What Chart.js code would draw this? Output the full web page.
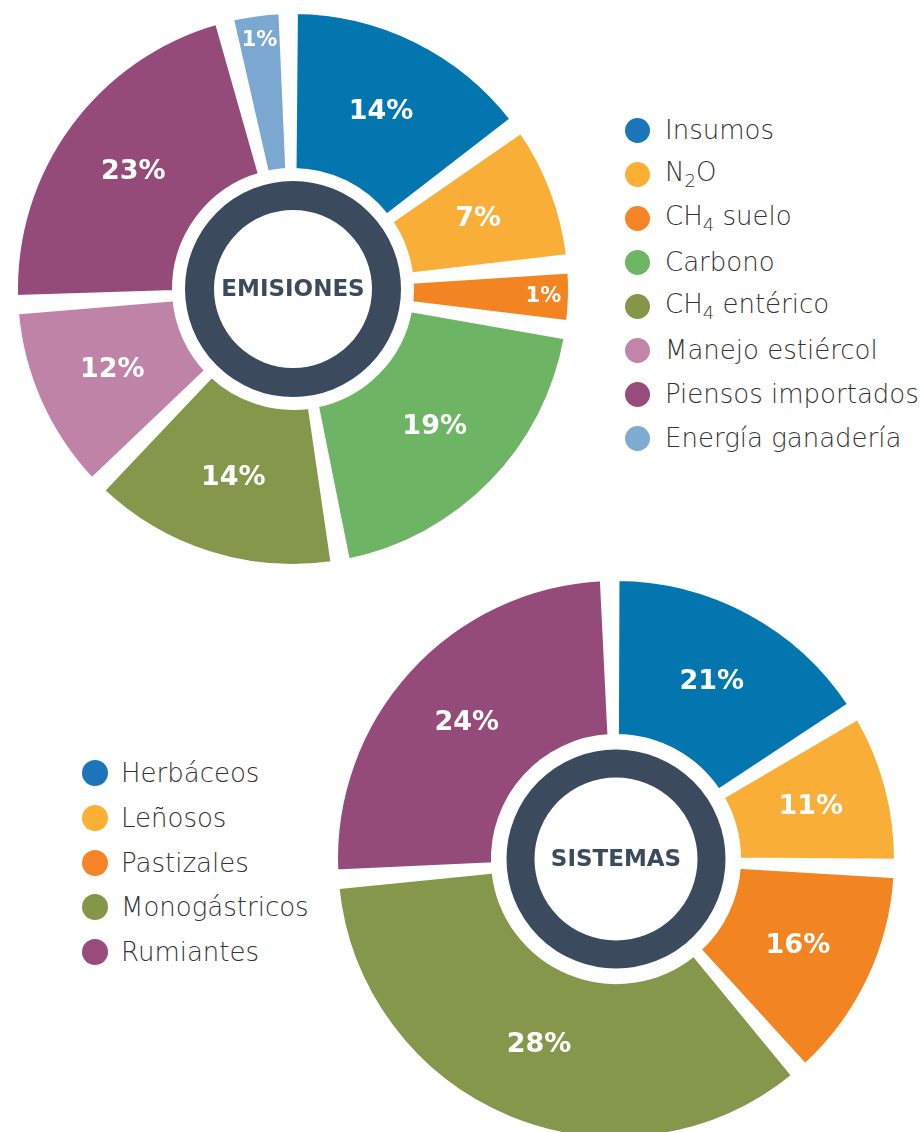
<!DOCTYPE html>
<html>
<head>
<meta charset="utf-8">
<script src="https://cdn.jsdelivr.net/npm/chart.js@4.4.1/dist/chart.umd.min.js"></script>
<style>
  body { margin: 0; background: #fff; }
  #page { position: relative; width: 924px; height: 1132px; overflow: hidden; background: #fff; }
  #page canvas { position: absolute; }
  #c1 { left: -7px; top: -11px; }
  #c2 { left: 316px; top: 559px; }
  .legend { position: absolute; font-family: "DejaVu Sans", sans-serif; font-weight: 200; font-size: 26px; color: #333; }
  .legend .row { display: flex; align-items: center; white-space: nowrap; }
  .legend .dot { width: 25px; height: 25px; border-radius: 50%; margin-right: 15px; flex: none; }
  #leg1 { left: 625px; top: 108px; }
  #leg1 .row { height: 44px; }
  #leg2 { left: 82px; top: 751px; }
  #leg2 .row { height: 44.7px; }
  #leg2 .dot { width: 26px; height: 26px; margin-right: 13px; }
</style>
</head>
<body>
<div id="page">
  <canvas id="c1" width="600" height="600"></canvas>
  <canvas id="c2" width="600" height="600"></canvas>
  <div class="legend" id="leg1"></div>
  <div class="legend" id="leg2"></div>
</div>
<script>
// Emisiones
const emisionesLabels = ["Insumos", "N₂O", "CH₄ suelo", "Carbono", "CH₄ entérico", "Manejo estiércol", "Piensos importados", "Energía ganadería"];
const emisionesPct = [14, 7, 1, 19, 14, 12, 23, 1];
// slice sizes as drawn in the picture (small slices are drawn wider than their %)
const emisionesArc = [15.2, 8.6, 3.8, 19.9, 15.2, 11.6, 21.9, 3.7];
const emisionesColors = ["#0376af", "#f9ae38", "#f28521", "#6db465", "#84974a", "#c083a8", "#944b79", "#7ba8d1"];

// Sistemas
const sistemasLabels = ["Herbáceos", "Leñosos", "Pastizales", "Monogástricos", "Rumiantes"];
const sistemasPct = [21, 11, 16, 28, 24];
const sistemasArc = [16.5, 9.4, 13.1, 35.2, 25.8];
const sistemasColors = ["#0376af", "#f9ae38", "#f28521", "#84974a", "#944b79"];

const dark = "#3b4a5c";

// pull each slice's edges in a little so the white gaps widen outward
const arcGap = {
    id: "arcGap",
    afterDatasetsUpdate(chart, args, opts) {
        const g = opts.deg * Math.PI / 180;
        chart.getDatasetMeta(0).data.forEach((arc) => {
            arc.startAngle += g / 2;
            arc.endAngle -= g / 2;
            arc.circumference -= g;
        });
    }
};

const sliceLabels = {
    id: "sliceLabels",
    afterDatasetsDraw(chart, args, opts) {
        const ctx = chart.ctx;
        const meta = chart.getDatasetMeta(0);
        const values = chart.data.datasets[0].data;
        meta.data.forEach((arc, i) => {
            const p = arc.getProps(["x", "y", "startAngle", "endAngle", "innerRadius", "outerRadius"], true);
            const mid = (p.startAngle + p.endAngle) / 2;
            const small = values[i] < 5;
            const r = p.innerRadius + (p.outerRadius - p.innerRadius) * (small ? 0.83 : 0.5);
            ctx.save();
            ctx.font = "bold " + (small ? 21 : 27) + "px 'DejaVu Sans'";
            ctx.fillStyle = "#fff";
            ctx.textAlign = "center";
            ctx.textBaseline = "middle";
            ctx.fillText(opts.texts[i] + "%", p.x + Math.cos(mid) * r, p.y + Math.sin(mid) * r);
            ctx.restore();
        });
    }
};

const centerRing = {
    id: "centerRing",
    afterDatasetsDraw(chart, args, opts) {
        const ctx = chart.ctx;
        const arc = chart.getDatasetMeta(0).data[0];
        const x = arc.x, y = arc.y;
        ctx.save();
        ctx.beginPath();
        ctx.arc(x, y, opts.outer - opts.width / 2, 0, Math.PI * 2);
        ctx.lineWidth = opts.width;
        ctx.strokeStyle = dark;
        ctx.stroke();
        ctx.font = "bold 23px 'DejaVu Sans'";
        ctx.fillStyle = dark;
        ctx.textAlign = "center";
        ctx.textBaseline = "middle";
        ctx.fillText(opts.text, x, y + 1);
        ctx.restore();
    }
};

function makeDonut(id, values, colors, pct, radius, cutout, rotation, ring) {
    new Chart(document.getElementById(id), {
        type: "doughnut",
        data: {
            datasets: [{
                data: values,
                backgroundColor: colors,
                borderColor: "#fff",
                borderWidth: 5
            }]
        },
        options: {
            responsive: false,
            animation: false,
            events: [],
            radius: radius,
            cutout: cutout,
            rotation: rotation,
            plugins: {
                legend: { display: false },
                tooltip: { enabled: false },
                arcGap: { deg: 3 },
                sliceLabels: { texts: pct },
                centerRing: ring
            }
        },
        plugins: [arcGap, sliceLabels, centerRing]
    });
}

makeDonut("c1", emisionesArc, emisionesColors, emisionesPct, 277.5, "42.7%", -1, { outer: 108, width: 29, text: "EMISIONES" });
makeDonut("c2", sistemasArc, sistemasColors, sistemasPct, 280.5, "43.7%", -1.3, { outer: 109.5, width: 28, text: "SISTEMAS" });

function buildLegend(id, labels, colors) {
    const el = document.getElementById(id);
    labels.forEach((lab, i) => {
        const row = document.createElement("div");
        row.className = "row";
        const dot = document.createElement("span");
        dot.className = "dot";
        dot.style.background = colors[i];
        const txt = document.createElement("span");
        txt.innerHTML = lab.replace(/([₂₄])/g, (m) => "<sub style='font-size:18px'>" + (m === "₂" ? "2" : "4") + "</sub>");
        row.appendChild(dot);
        row.appendChild(txt);
        el.appendChild(row);
    });
}

buildLegend("leg1", emisionesLabels, ["#1a75bb", "#fbb034", "#f58426", "#6cb664", "#859648", "#c284a8", "#974c7b", "#7eabd1"]);
buildLegend("leg2", sistemasLabels, ["#1a75bb", "#fbb034", "#f58426", "#859648", "#974c7b"]);
</script>
</body>
</html>
